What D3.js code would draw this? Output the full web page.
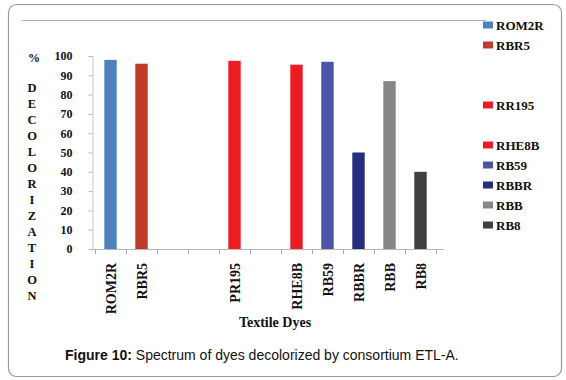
<!DOCTYPE html>
<html>
<head>
<meta charset="utf-8">
<script src="https://cdn.jsdelivr.net/npm/d3@7"></script>
<style>
  html, body { margin: 0; padding: 0; background: #fff; }
  svg { display: block; }
  .serif { font-family: 'Liberation Serif', 'Times New Roman', serif; font-weight: bold; fill: #111; }
</style>
</head>
<body>
<svg id="chart" width="566" height="380"></svg>
<script>
// ---- data ----
const slots = ["s0","s1","s2","s3","s4","s5","s6","s7","s8","s9","s10"];
const axisLabels = ["ROM2R","RBR5","","","PR195","","RHE8B","RB59","RBBR","RBB","RB8"];
const legendLabels = ["ROM2R","RBR5","","","RR195","","RHE8B","RB59","RBBR","RBB","RB8"];
const values = [98, 96, null, null, 97.5, null, 95.5, 97, 50, 87, 40];
const colors = ["#4f81bd","#c0392b",null,null,"#ec1c24",null,"#ec1c24","#4b56a8","#262d7c","#878787","#404040"];
const yTicks = [0,10,20,30,40,50,60,70,80,90,100];
const yTitleLetters = ["D","E","C","O","L","O","R","I","Z","A","T","I","O","N"];

const svg = d3.select("#chart");
const sans = "'Liberation Sans',Arial,sans-serif";

// frame
svg.append("rect").attr("x", 8.5).attr("y", 4.5).attr("width", 553).attr("height", 372)
  .attr("rx", 8).attr("fill", "#fff").attr("stroke", "#9a9a9a").attr("stroke-width", 1.2);
svg.append("line").attr("x1", 22).attr("x2", 486).attr("y1", 20.5).attr("y2", 20.5)
  .attr("stroke", "#b0b0b0").attr("stroke-width", 1);

// scales
const x = d3.scaleBand().domain(slots).range([95, 436]).paddingInner(0.6).paddingOuter(0.3);
const y = d3.scaleLinear().domain([0, 100]).range([249, 56]);
const step = x.step();

// y axis
const yAxis = svg.append("g").attr("transform", "translate(92.5,0)")
  .call(d3.axisLeft(y).tickValues(yTicks).tickSize(4).tickPadding(16));
yAxis.attr("font-family", null).attr("font-size", null);
yAxis.select(".domain").attr("stroke", "#c8c8c8");
yAxis.selectAll(".tick line").attr("stroke", "#b8b8b8");
yAxis.selectAll(".tick text").attr("class", "serif").attr("fill", null).style("font-size", "12px");

// x axis baseline + ticks
const x0 = x(slots[0]) - (step - x.bandwidth()) / 2;
svg.append("line").attr("x1", 92).attr("x2", 444).attr("y1", y(0) + 0.5).attr("y2", y(0) + 0.5)
  .attr("stroke", "#b8b8b8");
const tickPos = slots.map(s => x(s) - (step - x.bandwidth()) / 2).concat([x0 + step * slots.length]);
svg.append("g").selectAll("line").data(tickPos).join("line")
  .attr("x1", d => Math.round(d) + 0.5).attr("x2", d => Math.round(d) + 0.5)
  .attr("y1", y(0)).attr("y2", y(0) + 5).attr("stroke", "#a8a8a8");

// bars
const barData = slots.map((s, i) => ({ s, v: values[i], c: colors[i] })).filter(d => d.v != null);
svg.append("g").selectAll("rect").data(barData).join("rect")
  .attr("x", d => x(d.s)).attr("width", x.bandwidth())
  .attr("y", d => y(d.v)).attr("height", d => y(0) - y(d.v))
  .attr("fill", d => d.c);

// x category labels (rotated)
svg.append("g").selectAll("text").data(slots.map((s, i) => ({ s, t: axisLabels[i] })).filter(d => d.t))
  .join("text").attr("class", "serif")
  .attr("transform", d => `translate(${x(d.s) + x.bandwidth() / 2 + 5},263) rotate(-90)`)
  .attr("text-anchor", "end").style("font-size", "14px")
  .text(d => d.t);

// x title
svg.append("text").attr("class", "serif").attr("x", 275).attr("y", 327).attr("text-anchor", "middle")
  .style("font-size", "14px").text("Textile Dyes");

// y title
svg.append("text").attr("class", "serif").attr("x", 34).attr("y", 62).attr("text-anchor", "middle")
  .style("font-size", "12px").text("%");
svg.append("g").selectAll("text").data(yTitleLetters).join("text").attr("class", "serif")
  .attr("x", 32).attr("y", (d, i) => 92 + i * 16).attr("text-anchor", "middle")
  .style("font-size", "12.5px").text(d => d);

// legend
const leg = svg.append("g").selectAll("g")
  .data(slots.map((s, i) => ({ t: legendLabels[i], c: colors[i], i })).filter(d => d.t))
  .join("g").attr("transform", d => `translate(483,${25 + d.i * 20})`);
leg.append("rect").attr("x", 0).attr("y", -3.5).attr("width", 10).attr("height", 7).attr("fill", d => d.c);
leg.append("text").attr("class", "serif").attr("x", 13).attr("y", 5)
  .style("font-size", "13px").text(d => d.t);

// caption
const cap = svg.append("text").attr("x", 65).attr("y", 360)
  .attr("font-family", sans).attr("font-size", 14).attr("fill", "#111");
cap.append("tspan").attr("font-weight", "bold").text("Figure 10:");
cap.append("tspan").text(" Spectrum of dyes decolorized by consortium ETL-A.");
</script>
</body>
</html>
